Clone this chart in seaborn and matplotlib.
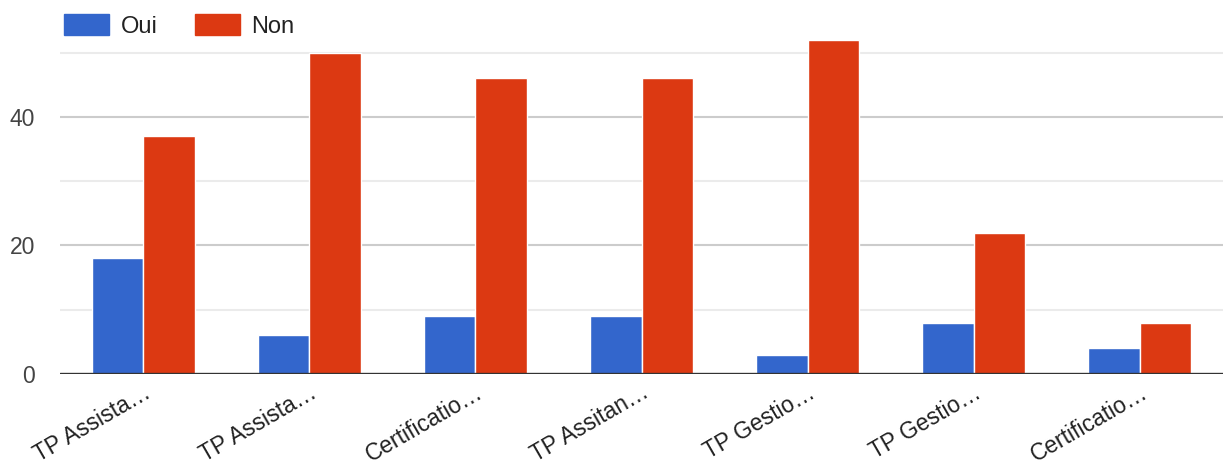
import matplotlib
matplotlib.use("Agg")
import matplotlib.pyplot as plt
import seaborn as sns
import pandas as pd
from matplotlib.patches import Patch
from matplotlib.ticker import MultipleLocator

# ---- data ----
tick_labels = ["TP Assista…", "TP Assista…", "Certificatio…", "TP Assitan…",
               "TP Gestio…", "TP Gestio…", "Certificatio…"]
series_names = ["Oui", "Non"]
oui = [18, 6, 9, 9, 3, 8, 4]
non = [37, 50, 46, 46, 52, 22, 8]
colors = ["#3366cc", "#dc3912"]

keys = [f"c{i}" for i in range(len(tick_labels))]
df = pd.DataFrame({
    "cat": keys * 2,
    "serie": [series_names[0]] * len(keys) + [series_names[1]] * len(keys),
    "val": oui + non,
})

sns.set_theme(style="white")
plt.rcParams["font.family"] = ["Liberation Sans", "DejaVu Sans"]

W, H = 1223, 468
fig = plt.figure(figsize=(W / 100, H / 100), dpi=100)
ax = fig.add_axes([60 / W, (H - 374) / H, (W - 60) / W, (374 - 36) / H])

sns.barplot(data=df, x="cat", y="val", hue="serie", order=keys,
            hue_order=series_names, palette=colors, width=0.62,
            saturation=1, edgecolor="white", linewidth=1, legend=False, ax=ax)

ax.set_xlim(-0.5, len(keys) - 0.5)
ax.set_ylim(0, 52.6)
ax.yaxis.set_major_locator(MultipleLocator(20))
ax.yaxis.set_minor_locator(MultipleLocator(10))
ax.grid(True, axis="y", which="major", color="#cccccc", lw=1.5)
ax.grid(True, axis="y", which="minor", color="#ebebeb", lw=1.5)
ax.set_axisbelow(True)
ax.axhline(0, color="#333333", lw=2.4, zorder=5)
for s in ax.spines.values():
    s.set_visible(False)

ax.tick_params(axis="y", which="both", length=0, pad=18, labelsize=16.5, labelcolor="#444444")
ax.tick_params(axis="x", length=0, pad=5)
ax.set_xticks(range(len(keys)))
ax.set_xticklabels(tick_labels, rotation=30, ha="right", rotation_mode="anchor",
                   fontsize=16.5, color="#222222")
ax.set_xlabel("")
ax.set_ylabel("")

handles = [Patch(facecolor=c, edgecolor=c) for c in colors]
fig.legend(handles, series_names, loc="upper left", bbox_to_anchor=(55 / W, 1 - 5 / H),
           ncol=2, frameon=False, fontsize=17, handlelength=1.9, handleheight=0.97,
           handletextpad=0.47, columnspacing=1.6, labelcolor="#222222", borderaxespad=0)

fig.savefig("out.png", dpi=100)
